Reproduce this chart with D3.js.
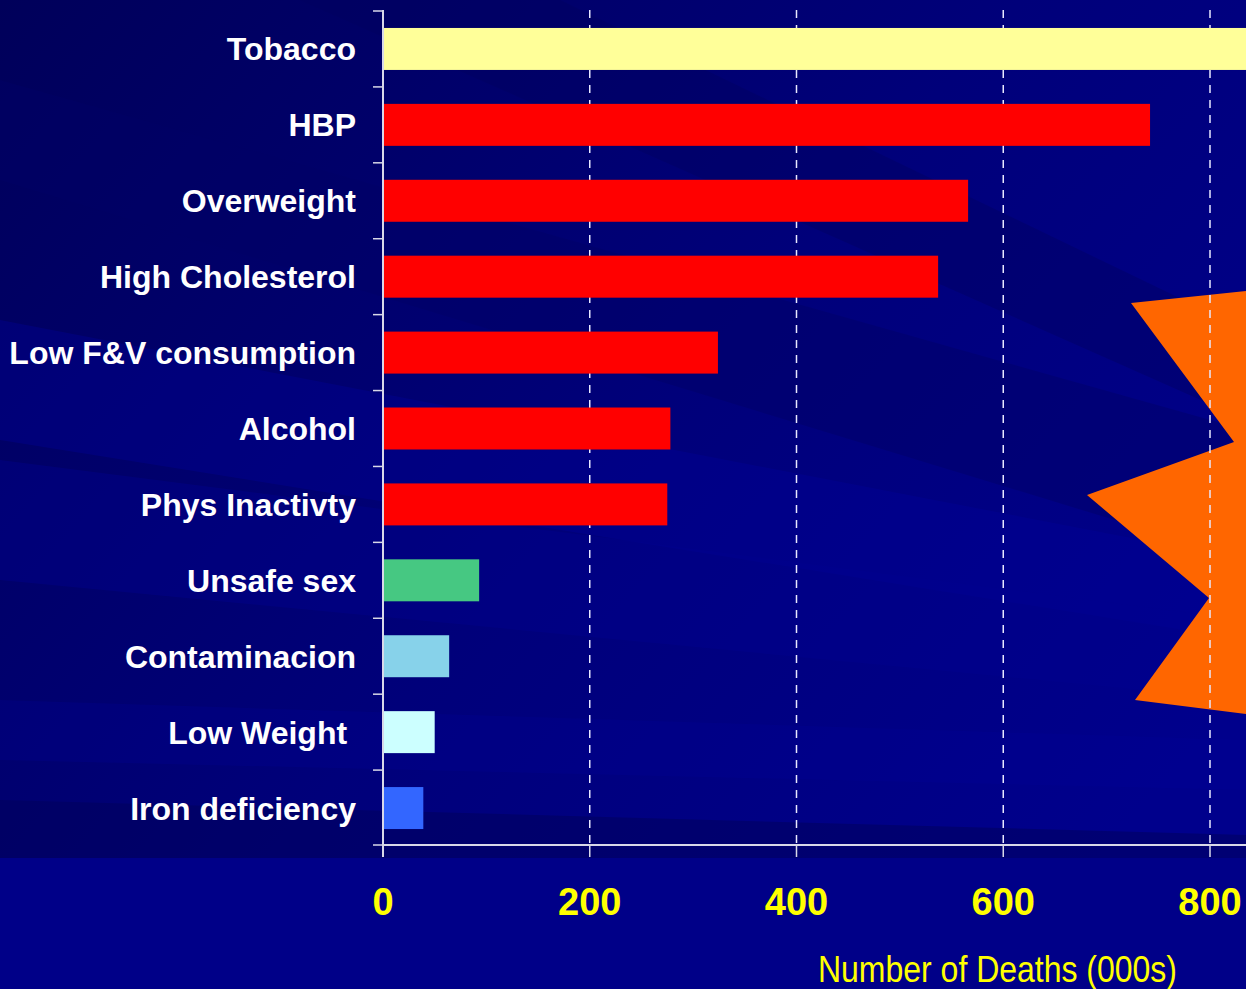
<!DOCTYPE html>
<html>
<head>
<meta charset="utf-8">
<script src="https://cdn.jsdelivr.net/npm/d3@7"></script>
<style>
  html, body { margin: 0; padding: 0; background: #000080; overflow: hidden; }
  svg { display: block; }
</style>
</head>
<body>
<div id="container"></div>
<script>
// data (deaths, thousands)
var categories = ["Tobacco", "HBP", "Overweight", "High Cholesterol", "Low F&V consumption",
                  "Alcohol", "Phys Inactivty", "Unsafe sex", "Contaminacion", "Low Weight\u00a0", "Iron deficiency"];
var deaths = [865, 742, 566, 537, 324, 278, 275, 93, 64, 50, 39];
var barColors = ["#ffff99", "#ff0000", "#ff0000", "#ff0000", "#ff0000", "#ff0000", "#ff0000",
                 "#46c882", "#87d2ea", "#ccffff", "#3366ff"];
var xTicks = [0, 200, 400, 600, 800];
var xTitle = "Number of Deaths (000s)";

const width = 1246;
const height = 989;

const svg = d3.select("div#container").append("svg")
    .attr("width", width)
    .attr("height", height);

//--------------------------BACKGROUND--------------------------//
const defs = svg.append("defs");
const bg = defs.append("linearGradient")
    .attr("id", "bg")
    .attr("x1", "0").attr("y1", "0").attr("x2", "1").attr("y2", "0.7");
bg.append("stop").attr("offset", "0").attr("stop-color", "#00005a");
bg.append("stop").attr("offset", "0.55").attr("stop-color", "#00007a");
bg.append("stop").attr("offset", "1").attr("stop-color", "#00008c");

svg.append("rect")
    .attr("width", width).attr("height", height)
    .attr("fill", "url(#bg)");

// soft diagonal streaks
const streaks = [
  {pts: [[0, 80], [0, 180], [1246, 560], [1246, 430]], fill: "#000066", op: 0.45},
  {pts: [[0, 320], [0, 440], [1246, 640], [1246, 560]], fill: "#00009a", op: 0.35},
  {pts: [[300, 0], [560, 0], [1246, 330], [1246, 420]], fill: "#000060", op: 0.4},
  {pts: [[0, 460], [0, 580], [1246, 700], [1246, 620]], fill: "#00008e", op: 0.4},
  {pts: [[0, 700], [0, 760], [1246, 790], [1246, 740]], fill: "#000098", op: 0.25},
  {pts: [[0, 800], [0, 858], [1246, 858], [1246, 835]], fill: "#00005a", op: 0.5}
];
svg.append("g").selectAll("polygon")
    .data(streaks)
    .enter()
    .append("polygon")
    .attr("points", function(d) { return d.pts.map(function(p) { return p.join(","); }).join(" "); })
    .attr("fill", function(d) { return d.fill; })
    .attr("opacity", function(d) { return d.op; });

svg.append("rect")
    .attr("x", 0).attr("y", 858)
    .attr("width", width).attr("height", height - 858)
    .attr("fill", "#000088");

// orange star burst on the right
svg.append("polygon")
    .attr("points", "1131,303 1246,291 1246,714 1135,700 1209,598 1087,495 1234,442")
    .attr("fill", "#ff6600");

//----------------------------SCALES----------------------------//
const xScale = d3.scaleLinear().domain([0, 800]).range([383, 1210]);
const yScale = d3.scaleBand()
    .domain(categories)
    .range([11, 846])
    .paddingInner(0.447)
    .paddingOuter(0.2235);

const step = yScale.step();
const gap = (step - yScale.bandwidth()) / 2;

//-----------------------------GRID-----------------------------//
svg.append("g")
    .selectAll("line")
    .data(xTicks.slice(1))
    .enter()
    .append("line")
    .attr("x1", function(d) { return xScale(d); })
    .attr("x2", function(d) { return xScale(d); })
    .attr("y1", 10)
    .attr("y2", 845)
    .attr("stroke", "#e8e8ff")
    .attr("stroke-width", 1.5)
    .attr("stroke-dasharray", "8,7");

//-----------------------------BARS-----------------------------//
svg.append("g")
    .selectAll("rect")
    .data(categories)
    .enter()
    .append("rect")
    .attr("x", xScale(0))
    .attr("y", function(d) { return yScale(d); })
    .attr("width", function(d, i) { return Math.min(xScale(deaths[i]), width) - xScale(0); })
    .attr("height", yScale.bandwidth())
    .attr("fill", function(d, i) { return barColors[i]; });

//-----------------------------AXES-----------------------------//
const axisColor = "#d8d8e8";
const yAxis = svg.append("g");
yAxis.append("line")
    .attr("x1", xScale(0)).attr("x2", xScale(0))
    .attr("y1", 10).attr("y2", 857)
    .attr("stroke", axisColor).attr("stroke-width", 2);

const bounds = categories.map(function(c) { return yScale(c) - gap; }).concat([845]);
yAxis.selectAll(".ytick")
    .data(bounds)
    .enter()
    .append("line")
    .attr("class", "ytick")
    .attr("x1", xScale(0) - 10).attr("x2", xScale(0))
    .attr("y1", function(d) { return d; })
    .attr("y2", function(d) { return d; })
    .attr("stroke", axisColor).attr("stroke-width", 1.5);

yAxis.selectAll("text")
    .data(categories)
    .enter()
    .append("text")
    .attr("x", 356)
    .attr("y", function(d) { return yScale(d) + yScale.bandwidth() / 2; })
    .attr("dy", "0.36em")
    .attr("text-anchor", "end")
    .style("white-space", "pre")
    .style("font-family", "'Liberation Sans', Arial, sans-serif")
    .style("font-weight", "bold")
    .style("font-size", "32px")
    .attr("fill", "#ffffff")
    .text(function(d) { return d; });

const xAxis = svg.append("g");
xAxis.append("line")
    .attr("x1", xScale(0)).attr("x2", width)
    .attr("y1", 845).attr("y2", 845)
    .attr("stroke", axisColor).attr("stroke-width", 2);

xAxis.selectAll(".xtick")
    .data(xTicks)
    .enter()
    .append("line")
    .attr("class", "xtick")
    .attr("x1", function(d) { return xScale(d); })
    .attr("x2", function(d) { return xScale(d); })
    .attr("y1", 845).attr("y2", 857)
    .attr("stroke", axisColor).attr("stroke-width", 1.5);

xAxis.selectAll("text")
    .data(xTicks)
    .enter()
    .append("text")
    .attr("x", function(d) { return xScale(d); })
    .attr("y", 915)
    .attr("text-anchor", "middle")
    .style("font-family", "'Liberation Sans', Arial, sans-serif")
    .style("font-weight", "bold")
    .style("font-size", "38px")
    .attr("fill", "#ffff00")
    .text(function(d) { return d; });

svg.append("text")
    .attr("x", 818)
    .attr("y", 982)
    .attr("textLength", 359)
    .attr("lengthAdjust", "spacingAndGlyphs")
    .style("font-family", "'Liberation Sans Narrow', 'Arial Narrow', 'Liberation Sans', sans-serif")
    .style("font-size", "36px")
    .attr("fill", "#ffff00")
    .text(xTitle);
</script>
</body>
</html>
